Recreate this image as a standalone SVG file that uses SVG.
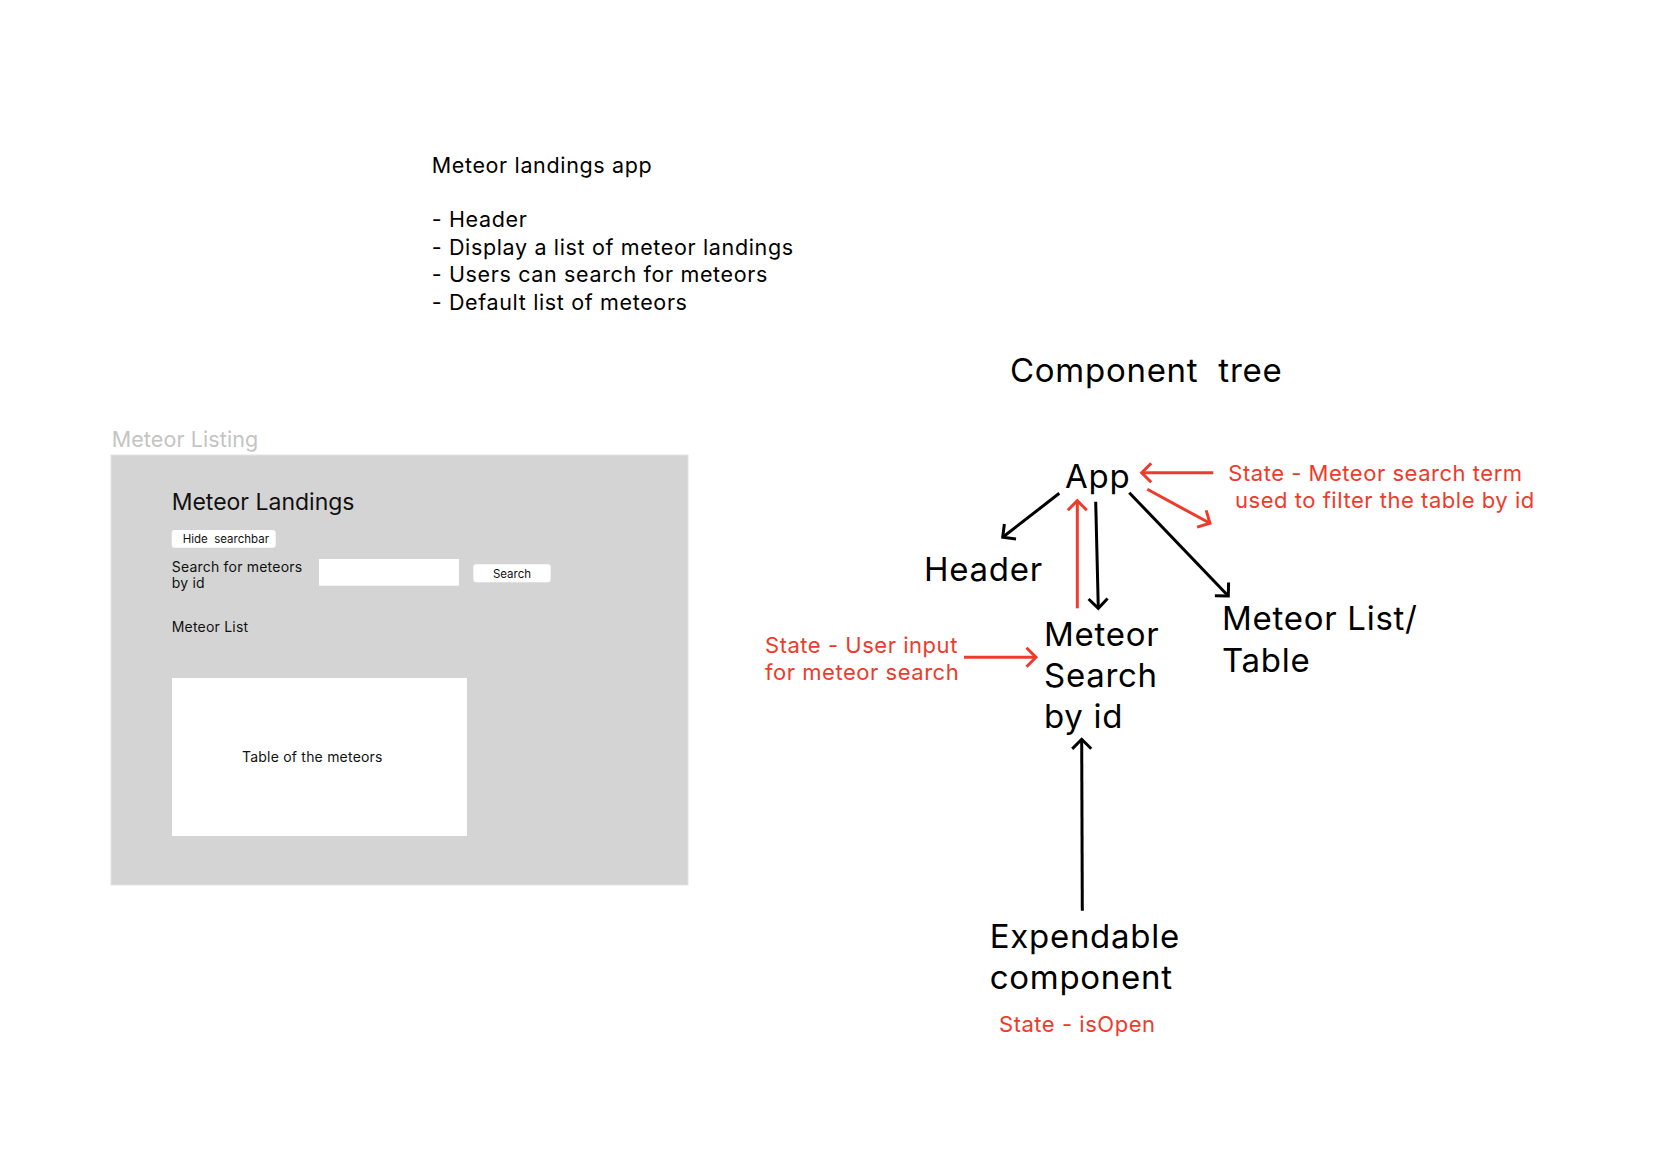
<svg xmlns="http://www.w3.org/2000/svg" width="1660" height="1170" viewBox="0 0 1660 1170">
<style>
text{font-family:Inter,"Noto Sans","Liberation Sans",sans-serif;fill:#000;white-space:pre}
.notes{font-size:21.5px;letter-spacing:0.03em}
.big{font-size:33px;letter-spacing:0.022em}
.red{font-size:22px;fill:#EE3B2B;letter-spacing:0.024em}
.ui{font-size:14px;fill:#111;letter-spacing:0.015em}
.btn{font-size:11.5px;fill:#111}
.k{fill:none;stroke:#000;stroke-width:3}
.r{fill:none;stroke:#EE3B2B;stroke-width:3}
</style>
<defs>
<marker id="ak" markerUnits="userSpaceOnUse" markerWidth="30" markerHeight="30" viewBox="-15 -15 30 30" refX="0" refY="0" orient="auto" overflow="visible"><path d="M-9.5,-9.5 L0,0 L-9.5,9.5" fill="none" stroke="#000" stroke-width="3"/></marker>
<marker id="ar" markerUnits="userSpaceOnUse" markerWidth="30" markerHeight="30" viewBox="-15 -15 30 30" refX="0" refY="0" orient="auto" overflow="visible"><path d="M-9.5,-9.5 L0,0 L-9.5,9.5" fill="none" stroke="#EE3B2B" stroke-width="3"/></marker>
</defs>
<rect width="1660" height="1170" fill="#fff"/>

<g id="notes">
<text class="notes" x="431.7" y="172.5">Meteor landings app</text>
<text class="notes" x="431.7" y="227">- Header</text>
<text class="notes" x="431.7" y="254.5">- Display a list of meteor landings</text>
<text class="notes" x="431.7" y="282">- Users can search for meteors</text>
<text class="notes" x="431.7" y="309.5">- Default list of meteors</text>
</g>

<g id="mockup">
<text x="111.7" y="446.7" style="font-size:21.5px;fill:#c4c4c4;letter-spacing:0.005em">Meteor Listing</text>
<rect x="111" y="455" width="577" height="430" fill="#d4d4d4" stroke="#e3e3e3" stroke-width="1"/>
<text x="171.7" y="510" style="font-size:23px;fill:#111">Meteor Landings</text>
<rect x="171.7" y="530" width="104" height="17.7" rx="3" fill="#fff"/>
<text class="btn" x="182.7" y="543.3">Hide  searchbar</text>
<text class="ui" x="171.7" y="571.7">Search for meteors</text>
<text class="ui" x="171.7" y="588.3">by id</text>
<rect x="319" y="559" width="140" height="26.7" fill="#fff"/>
<rect x="473.3" y="564.3" width="77.4" height="18" rx="3" fill="#fff"/>
<text class="btn" x="512" y="578" text-anchor="middle">Search</text>
<text class="ui" x="171.7" y="631.7">Meteor List</text>
<rect x="172" y="678" width="295" height="158" fill="#fff"/>
<text class="ui" x="242" y="761.7">Table of the meteors</text>
</g>

<g id="title"><text class="big" x="1010" y="382.3">Component  tree</text></g>

<g id="connectors">
<path class="k" d="M1059.3,493.3 L1002.7,537.3" marker-end="url(#ak)"/>
<path class="k" d="M1095.7,501.7 L1098.3,608.3" marker-end="url(#ak)"/>
<path class="k" d="M1129.3,492.7 L1228.3,596" marker-end="url(#ak)"/>
<path class="k" d="M1082.3,910.7 L1081.7,739.3" marker-end="url(#ak)"/>
<path class="r" d="M1077.3,608.3 L1077.3,500.7" marker-end="url(#ar)"/>
<path class="r" d="M1213.3,472.7 L1141.7,472.7" marker-end="url(#ar)"/>
<path class="r" d="M1147.3,489.3 L1210,523.3" marker-end="url(#ar)"/>
<path class="r" d="M964,657.3 L1036,657.3" marker-end="url(#ar)"/>
</g>

<g id="node-app"><text class="big" x="1065" y="488.3">App</text>
<text class="red" x="1228.3" y="481">State - Meteor search term</text>
<text class="red" x="1235" y="508.3">used to filter the table by id</text></g>
<g id="node-header"><text class="big" x="924" y="580.7">Header</text></g>
<g id="node-search"><text class="big" x="1044" y="645.7">Meteor</text>
<text class="big" x="1044" y="686.5">Search</text>
<text class="big" x="1044" y="727.5">by id</text>
<text class="red" x="765" y="652.7">State - User input</text>
<text class="red" x="765" y="680">for meteor search</text></g>
<g id="node-list"><text class="big" x="1222" y="630">Meteor List/</text>
<text class="big" x="1222" y="671.5">Table</text></g>
<g id="node-expendable"><text class="big" x="989.7" y="948">Expendable</text>
<text class="big" x="989.7" y="989">component</text>
<text class="red" x="999" y="1031.7">State - isOpen</text></g>
</svg>
